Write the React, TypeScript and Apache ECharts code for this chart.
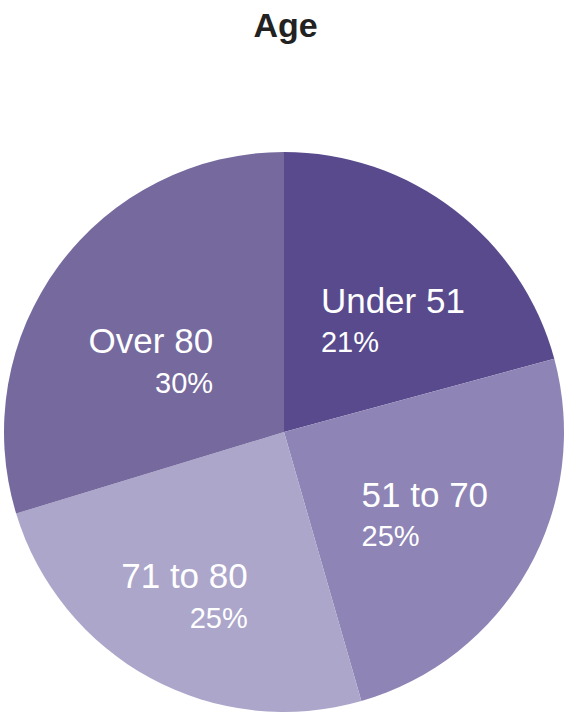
import React, { useEffect, useRef } from "react";
import * as echarts from "echarts";

const titleText = "Age";
const categories = ["Under 51", "51 to 70", "71 to 80", "Over 80"];
const percentages = [21, 25, 25, 30];
const colors = ["#584a8c", "#8e84b5", "#aca6ca", "#76699e"];
const labelAligns = ["left", "left", "right", "right"];
const labelOffsets = [
  [-50, 3],
  [-47, 13],
  [32, 39],
  [44, 15],
];

export default function App() {
  const ref = useRef<HTMLDivElement>(null);
  useEffect(() => {
    if (!ref.current) return;
    const chart = echarts.init(ref.current, null, { renderer: "svg" });
    const font = "'Liberation Sans', Arial, Helvetica, sans-serif";
    chart.setOption({
      animation: false,
      title: {
        text: titleText,
        left: "center",
        top: 3,
        textStyle: {
          fontFamily: font,
          fontSize: 34,
          fontWeight: "bold",
          color: "#222222",
        },
      },
      series: [
        {
          type: "pie",
          center: [284, 432],
          radius: [0, 280],
          startAngle: 90,
          clockwise: true,
          silent: true,
          itemStyle: { borderWidth: 0 },
          labelLine: { show: false },
          label: {
            show: true,
            position: "inside",
            fontFamily: font,
            color: "#ffffff",
            formatter: (p: any) => `{name|${p.name}}\n{pct|${p.value}%}`,
          },
          labelLayout: (params: any) => {
            const i = params.dataIndex;
            return {
              align: labelAligns[i],
              verticalAlign: "middle",
              dx: labelOffsets[i][0],
              dy: labelOffsets[i][1],
            };
          },
          data: categories.map((name, i) => ({
            name,
            value: percentages[i],
            itemStyle: { color: colors[i] },
            label: {
              align: labelAligns[i],
              rich: {
                name: {
                  fontFamily: font,
                  fontSize: 35,
                  lineHeight: 42,
                  color: "#ffffff",
                  align: labelAligns[i],
                },
                pct: {
                  fontFamily: font,
                  fontSize: 29,
                  lineHeight: 42,
                  color: "#ffffff",
                  align: labelAligns[i],
                },
              },
            },
          })),
        },
      ],
    });
    return () => chart.dispose();
  }, []);
  return (
    <div
      ref={ref}
      style={{ position: "fixed", left: 0, top: 0, width: 571, height: 719, background: "#ffffff" }}
    />
  );
}
